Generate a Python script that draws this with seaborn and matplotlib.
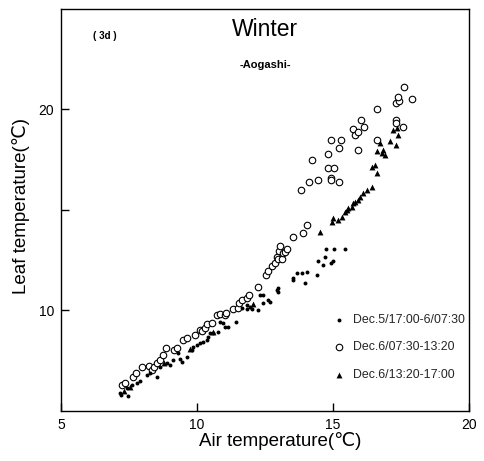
import matplotlib
matplotlib.use("Agg")
import matplotlib.pyplot as plt
import seaborn as sns
import pandas as pd

# Dec.5/17:00-6/07:30 (night)
night_air = [7.21, 7.17, 7.48, 7.42, 7.60, 7.78, 7.90, 8.17, 8.27, 8.52, 8.64, 8.89,
             9.01, 9.13, 9.38, 9.44, 9.31, 9.62, 9.80, 9.86, 9.99, 10.11, 10.23, 10.36,
             10.42, 10.48, 10.60, 10.78, 10.85, 10.97, 11.03, 11.15, 11.43, 11.64, 11.83,
             11.83, 11.95, 12.01, 12.25, 12.32, 12.44, 12.62, 12.68, 12.44, 12.93, 12.99,
             12.99, 13.54, 13.54, 13.67, 13.85, 13.97, 14.03, 14.40, 14.46, 14.64, 14.72,
             14.73, 14.91, 15.01, 15.05, 15.43]
night_leaf = [5.80, 5.90, 5.75, 6.13, 6.29, 6.37, 6.51, 6.79, 6.91, 6.68, 7.17, 7.37,
              7.29, 7.54, 7.57, 7.45, 7.87, 7.70, 8.03, 8.20, 8.28, 8.40, 8.45, 8.53,
              8.67, 8.87, 8.87, 8.95, 9.44, 9.36, 9.19, 9.20, 9.44, 10.11, 10.27,
              10.06, 10.19, 10.06, 10.02, 10.77, 10.36, 10.52, 10.44, 10.77, 11.02, 10.94,
              11.10, 11.52, 11.60, 11.85, 11.85, 11.35, 11.93, 11.77, 12.48, 12.28, 12.68,
              13.06, 12.35, 12.48, 13.06, 13.06]

# Dec.6/07:30-13:20 (morning)
morning_air = [7.23, 7.35, 7.64, 7.76, 7.97, 8.25, 8.33, 8.42, 8.52, 8.64, 8.76, 8.86,
               9.15, 9.25, 9.50, 9.62, 9.93, 10.11, 10.17, 10.29, 10.36, 10.54, 10.72,
               10.85, 11.03, 11.07, 11.33, 11.52, 11.55, 11.64, 11.83, 11.91, 12.23, 12.54,
               12.62, 12.75, 12.87, 12.93, 12.99, 13.03, 13.05, 13.13, 13.17, 13.24, 13.32,
               13.52, 13.81, 13.91, 14.03, 14.13, 14.22, 14.44, 14.82, 14.83, 14.91, 14.91,
               14.91, 15.02, 15.22, 15.23, 15.30, 15.72, 15.82, 15.92, 15.92, 16.02, 16.14,
               16.62, 16.62, 17.30, 17.32, 17.56, 17.30, 17.44, 17.40, 17.62, 17.92]
morning_leaf = [6.29, 6.41, 6.71, 6.88, 7.20, 7.24, 7.04, 7.17, 7.37, 7.54, 7.79, 8.12,
                8.03, 8.12, 8.53, 8.62, 8.78, 9.03, 8.99, 9.11, 9.33, 9.39, 9.78,
                9.83, 9.78, 9.89, 10.06, 10.11, 10.36, 10.52, 10.61, 10.77, 11.15, 11.77,
                11.98, 12.21, 12.35, 12.68, 12.55, 12.97, 13.21, 12.55, 12.84, 12.93, 13.07,
                13.67, 15.99, 13.87, 14.27, 16.39, 17.49, 16.49, 17.79, 17.09, 16.60, 16.50,
                18.48, 17.09, 18.08, 16.39, 18.48, 19.01, 18.71, 18.88, 17.99, 19.48, 19.11,
                20.00, 18.48, 19.50, 19.31, 19.11, 20.30, 20.44, 20.64, 21.10, 20.50]

# Dec.6/13:20-17:00 (afternoon)
afternoon_air = [7.30, 7.55, 8.80, 9.75, 10.60, 12.05, 14.52, 14.95, 15.01, 15.19, 15.32,
                 15.44, 15.50, 15.56, 15.69, 15.74, 15.81, 15.93, 15.99, 16.11, 16.24, 16.42,
                 16.42, 16.54, 16.63, 16.60, 16.81, 16.85, 16.91, 16.73, 17.10, 17.32, 17.22,
                 17.34, 17.40]
afternoon_leaf = [6.00, 6.20, 7.40, 8.10, 8.95, 10.30, 13.89, 14.42, 14.58, 14.50, 14.67,
                  14.91, 15.00, 15.08, 15.16, 15.33, 15.41, 15.50, 15.66, 15.83, 15.99, 16.13,
                  17.15, 17.24, 16.82, 17.94, 17.82, 17.99, 17.74, 18.32, 18.41, 18.21, 18.98,
                  19.06, 18.73]

periods = ["Dec.5/17:00-6/07:30", "Dec.6/07:30-13:20", "Dec.6/13:20-17:00"]
x_ticks = [5, 10, 15, 20]
y_ticks = [10, 15, 20]
y_ticklabels = ["10", "", "20"]

sns.set_theme(style="white")
plt.rcParams["font.family"] = ["Liberation Sans", "DejaVu Sans"]

df = pd.concat([
    pd.DataFrame({"air": night_air, "leaf": night_leaf, "period": periods[0]}),
    pd.DataFrame({"air": morning_air, "leaf": morning_leaf, "period": periods[1]}),
    pd.DataFrame({"air": afternoon_air, "leaf": afternoon_leaf, "period": periods[2]}),
], ignore_index=True)

fig = plt.figure(figsize=(4.84, 4.61), dpi=100)
ax = fig.add_axes([61 / 484, 1 - 411 / 461, 408 / 484, 402 / 461])

styles = {
    periods[0]: dict(marker="o", s=8, color="black", edgecolor="black", linewidth=0),
    periods[1]: dict(marker="o", s=22, facecolor="white", edgecolor="black", linewidth=0.8),
    periods[2]: dict(marker="^", s=18, color="black", edgecolor="black", linewidth=0),
}
order = [periods[1], periods[0], periods[2]]
for p in order:
    sub = df[df["period"] == p]
    sns.scatterplot(data=sub, x="air", y="leaf", ax=ax, label=p, zorder=3, **styles[p])

ax.set_xlim(5, 20)
ax.set_ylim(5, 25)
ax.set_xticks(x_ticks)
ax.set_xticklabels([str(t) for t in x_ticks])
ax.set_yticks(y_ticks)
ax.set_yticklabels(y_ticklabels)
ax.tick_params(direction="in", length=6, width=1, labelsize=10, colors="black",
               bottom=True, left=True, pad=5)
for sp in ax.spines.values():
    sp.set_color("black")
    sp.set_linewidth(1.0)

ax.set_xlabel("Air temperature(℃)", fontsize=13.5, color="black")
ax.set_ylabel("Leaf temperature(℃)", fontsize=13.5, color="black")
ax.xaxis.set_label_coords((280 - 61) / 408, (411 - 432) / 402)
ax.yaxis.set_label_coords((30 - 61) / 408, (411 - 206) / 402)

ax.text(0.5, 0.948, "Winter", transform=ax.transAxes, ha="center", va="center",
        fontsize=16.5, color="black")
ax.text(0.5, 0.861, "-Aogashi-", transform=ax.transAxes, ha="center", va="center",
        fontsize=8, fontweight="bold", color="black")
ax.text(0.108, 0.933, "( 3d )", transform=ax.transAxes, ha="center", va="center",
        fontsize=7, fontweight="bold", color="black")

handles, labels = ax.get_legend_handles_labels()
hmap = dict(zip(labels, handles))
leg = ax.legend([hmap[p] for p in periods], periods, loc="upper left",
                bbox_to_anchor=((333 - 61) / 408, (411 - 314) / 402),
                frameon=False, fontsize=8.9, handlelength=1.0, handletextpad=0.65,
                labelspacing=1.25, borderpad=0, borderaxespad=0, markerscale=1.0)

fig.savefig("out.png", dpi=100)
